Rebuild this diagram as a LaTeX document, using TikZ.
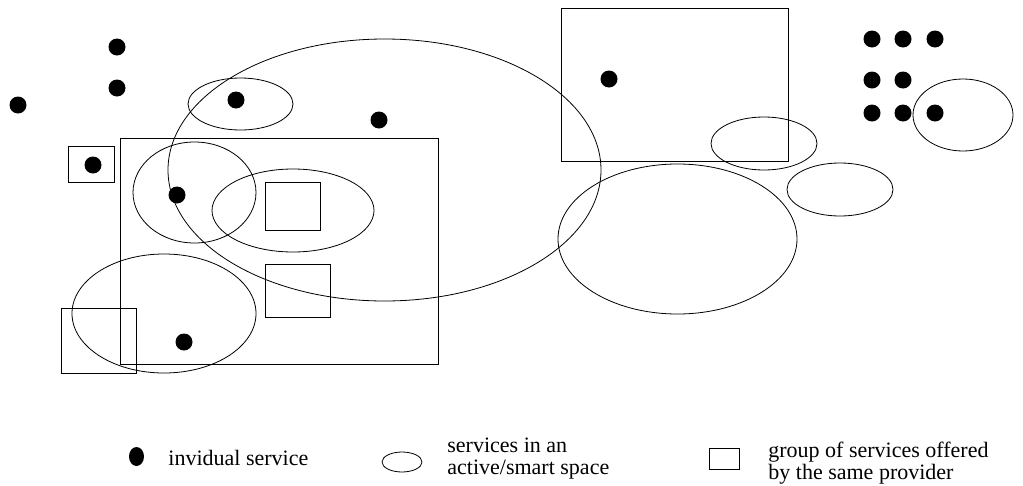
\documentclass[tikz,border=0pt]{standalone}
\usepackage{fontspec}
\setmainfont{Liberation Serif}
\usetikzlibrary{shapes.geometric}
\begin{document}
\begin{tikzpicture}[x=1pt, y=-1pt, line width=0.8pt,
    every node/.style={font=\fontsize{22}{22}\selectfont},
    svc/.style={circle, fill=black, inner sep=0pt, minimum size=17pt}]
    \useasboundingbox (0,0) rectangle (1023,485);

    % Groups of one provider
    \draw (120,138) rectangle (438,364);
    \draw (68,146) rectangle (114,182);
    \draw (265,182) rectangle (320,230);
    \draw (265,264) rectangle (330,317);
    \draw (61,308) rectangle (136,373);
    \draw (561,8) rectangle (788,161);

    % Active/smart spaces
    \draw (384.5,170) ellipse (216.5 and 131);
    \draw (240.5,104) ellipse (52.5 and 26);
    \draw (194.5,192.5) ellipse (61.5 and 50.5);
    \draw (293,210.5) ellipse (81 and 41.5);
    \draw (164,313.5) ellipse (92 and 59.5);
    \draw (764,143.5) ellipse (53 and 26.5);
    \draw (840,189.5) ellipse (53 and 26.5);
    \draw (677.5,239) ellipse (119.5 and 75);
    \draw (963,115) ellipse (50 and 36);

    % Single services
    \node[svc] (s1) at (117,47) {};
    \node[svc] (s2) at (117,88) {};
    \node[svc] (s3) at (18,105) {};
    \node[svc] (s4) at (236,100) {};
    \node[svc] (s5) at (379,120) {};
    \node[svc] (s6) at (93,165) {};
    \node[svc] (s7) at (177,195) {};
    \node[svc] (s8) at (184,342) {};
    \node[svc] (s9) at (609,79) {};
    \foreach \x/\y [count=\i] in {872/39, 903/39, 935/39, 872/80, 903/80,
                                  872/113, 903/113, 935/113}
        \node[svc] (g\i) at (\x,\y) {};

    % Legend
    \node[svc, ellipse, minimum width=15pt, minimum height=19pt] (keysvc) at (136.5,456.5) {};
    \node[anchor=base west, inner sep=0pt] (keysvctxt) at (168,465) {invidual service};
    \draw (402,462) ellipse (20 and 10);
    \node[anchor=west, align=left, inner sep=0pt] (keyspacetxt) at (447,459) {services in an\\active/smart space};
    \draw (709,448) rectangle (739,469);
    \node[anchor=west, align=left, inner sep=0pt] (keygrouptxt) at (768,463) {group of services offered\\by the same provider};

\end{tikzpicture}
\end{document}
